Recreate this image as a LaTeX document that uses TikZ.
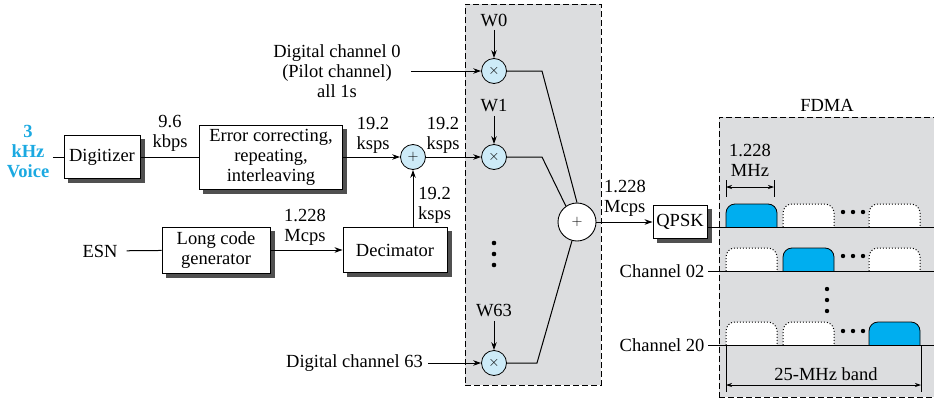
\documentclass[tikz,border=0pt]{standalone}
\usepackage{fontspec}
\setmainfont{Liberation Serif}
\usetikzlibrary{arrows.meta,positioning}
\definecolor{PanelGray}{HTML}{DCDDDF}
\definecolor{CircleBlue}{HTML}{CDEBF8}
\definecolor{PulseBlue}{HTML}{00AEEF}
\definecolor{VoiceBlue}{HTML}{1BA9E1}
\definecolor{ShadowGray}{HTML}{505050}
\newcommand{\figfont}{\fontsize{18.5}{20}\selectfont}
\newcommand{\opfont}{\fontsize{14}{14}\selectfont}
\tikzset{
    % Block style
    blocknode/.style={
        draw=black,
        fill=white,
        line width=0.9pt,
        align=center,
        inner sep=2pt
    },
    % Solid shadow under a block
    shadownode/.style={
        fill=ShadowGray,
        draw=ShadowGray,
        line width=0.9pt,
        inner sep=0pt
    },
    % Multiplier / small adder
    mulnode/.style={
        circle,
        draw=black,
        fill=CircleBlue,
        line width=0.8pt,
        minimum size=25pt,
        inner sep=0pt,
        font=\opfont
    },
    % Big summing node
    sumnode/.style={
        circle,
        draw=black,
        fill=white,
        line width=0.9pt,
        minimum size=38pt,
        inner sep=0pt,
        font=\opfont
    },
    % Rate labels
    ratelabel/.style={
        align=center,
        inner sep=0pt
    },
    % Dashed background panel
    panel/.style={
        draw=black,
        fill=PanelGray,
        line width=0.8pt,
        dash pattern=on 6pt off 3pt
    },
    % Arrow styles
    myarrow/.style={
        -{Stealth[length=8pt,width=5.5pt]},
        line width=1pt
    },
    myline/.style={
        line width=1pt
    },
    thinline/.style={
        line width=0.7pt
    },
    dimarrow/.style={
        {Stealth[length=6pt,width=4pt]}-{Stealth[length=6pt,width=4pt]},
        line width=0.7pt
    },
    % Spectrum pulses
    pulseon/.style={
        fill=PulseBlue,
        draw=black,
        line width=0.8pt
    },
    pulseoff/.style={
        fill=white,
        draw=black,
        line width=1pt,
        dotted
    },
    pulse/.pic={
        \path[pic actions, rounded corners=9pt] (0,0) -- (0,-23) -- (51,-23) -- (51,0);
    }
}
\begin{document}
\begin{tikzpicture}[x=1pt, y=-1pt]
    \useasboundingbox (0,0) rectangle (934,399);

    % Background panels
    \node[panel, minimum width=136pt, minimum height=381pt] (walsh) at (533,194.5) {};
    \node[panel, minimum width=222pt, minimum height=280pt, anchor=north west] (fdma) at (719,117) {};
    \node[font=\figfont] (fdmalabel) at (827,105) {FDMA};

    % Block shadows
    \node[shadownode, minimum width=76pt, minimum height=43pt] (digsh) at (106,161) {};
    \node[shadownode, minimum width=143pt, minimum height=64pt] (errsh) at (275,161) {};
    \node[shadownode, minimum width=108pt, minimum height=46pt] (lcgsh) at (220,254) {};
    \node[shadownode, minimum width=104pt, minimum height=45pt] (decsh) at (399,254) {};
    \node[shadownode, minimum width=54pt, minimum height=33pt] (qpsksh) at (684,226) {};

    \begin{scope}[font=\figfont]
    % Voice path
    \node[font=\figfont\bfseries, text=VoiceBlue, align=center] (voice) at (28,152) {3\\kHz\\Voice};
    \node[blocknode, minimum width=76pt, minimum height=43pt] (dig) at (102,157) {Digitizer};
    \node[ratelabel] (r96) at (170,133) {9.6\\kbps};
    \node[blocknode, minimum width=143pt, minimum height=64pt] (err) at (271,157) {Error correcting,\\repeating,\\interleaving};
    \node[ratelabel] (r192a) at (373,135) {19.2\\ksps};
    \node[mulnode] (add) at (413,157) {$+$};
    \node[ratelabel] (r192b) at (443,135) {19.2\\ksps};
    \draw[myline] (voice.east |- dig) -- (dig.west);
    \draw[myline] (dig) -- (err);
    \draw[myarrow] (err) -- (add);

    % Long code path
    \node[inner xsep=9pt] (esn) at (100,251) {ESN};
    \node[blocknode, minimum width=108pt, minimum height=46pt] (lcg) at (216,250) {Long code\\generator};
    \node[ratelabel] (r1228a) at (305,227) {1.228\\Mcps};
    \node[blocknode, minimum width=104pt, minimum height=45pt] (dec) at (395,250) {Decimator};
    \node[ratelabel, anchor=west] (r192c) at (418,205) {19.2\\ksps};
    \draw[myline] (esn) -- (lcg);
    \draw[myarrow] (lcg) -- (dec);
    \draw[myarrow] (add |- dec.north) -- (add.south);

    % Walsh spreading
    \node (w0) at (494,20) {W0};
    \node[mulnode] (m0) at (494,71) {$\times$};
    \node[align=center, inner xsep=10pt] (ch0) at (337,71) {Digital channel 0\\(Pilot channel)\\all 1s};
    \node (w1) at (494,106) {W1};
    \node[mulnode] (m1) at (494,157) {$\times$};
    \node (w63) at (494,311) {W63};
    \node[mulnode] (m63) at (494,363) {$\times$};
    \node[anchor=east, inner xsep=5pt] (ch63) at (428,363) {Digital channel 63};
    \foreach \y in {243,254,265}
        \fill (494,\y) circle (2.3pt);
    \draw[myarrow] (w0) -- (m0);
    \draw[myarrow] (w1) -- (m1);
    \draw[myarrow] (w63) -- (m63);
    \draw[myarrow] (ch0.east) -- (m0.west);
    \draw[myarrow] (add) -- (m1);
    \draw[myarrow] (ch63.east) -- (m63.west);

    % Combining and modulation
    \node[sumnode] (sum) at (577,222) {$+$};
    \draw[myline] (m0.east) -- (542,71) -- (sum.north);
    \draw[myline] (m1.east) -- (542,157) -- (sum.125);
    \draw[myline] (m63.east) -- (537,363) -- (sum.-105);
    \node[ratelabel, anchor=west, align=left] (r1228b) at (604,198) {1.228\\Mcps};
    \node[blocknode, minimum width=54pt, minimum height=33pt] (qpsk) at (680,222) {QPSK};
    \draw[myarrow] (sum) -- (qpsk);

    % FDMA channels
    \coordinate (row1) at (934,227);
    \coordinate (row2) at (934,271);
    \coordinate (row3) at (934,345);
    \node[anchor=east] (ch02) at (708,271) {Channel 02};
    \node[anchor=east] (ch20) at (708,345) {Channel 20};
    \pic[pulseon] at (726,227) {pulse};
    \pic[pulseoff] at (783,227) {pulse};
    \pic[pulseoff] at (869,227) {pulse};
    \pic[pulseoff] at (726,271) {pulse};
    \pic[pulseon] at (783,271) {pulse};
    \pic[pulseoff] at (869,271) {pulse};
    \pic[pulseoff] at (726,345) {pulse};
    \pic[pulseoff] at (783,345) {pulse};
    \pic[pulseon] at (869,345) {pulse};
    \draw[thinline] (qpsk.east |- row1) -- (row1);
    \draw[thinline] (ch02.east) -- (row2);
    \draw[thinline] (ch20.east) -- (row3);
    \foreach \y in {212,256,331}
        \foreach \x in {843,853,863}
            \fill (\x,\y) circle (2.2pt);
    \foreach \y in {289,300,311}
        \fill (827,\y) circle (2.2pt);

    % Bandwidth marks
    \node[ratelabel] (mhz) at (750,160) {1.228\\MHz};
    \coordinate (t1) at (726,187);
    \coordinate (t2) at (774,187);
    \draw[thinline] (726,180) -- (726,197);
    \draw[thinline] (774,180) -- (774,197);
    \draw[dimarrow] (t1) -- (t2);
    \node (band) at (826,374) {25-MHz band};
    \coordinate (b1) at (726,385);
    \coordinate (b2) at (921,385);
    \draw[thinline] (726,345) -- (726,392);
    \draw[thinline] (921,345) -- (921,392);
    \draw[dimarrow] (b1) -- (b2);
    \end{scope}
\end{tikzpicture}
\end{document}
